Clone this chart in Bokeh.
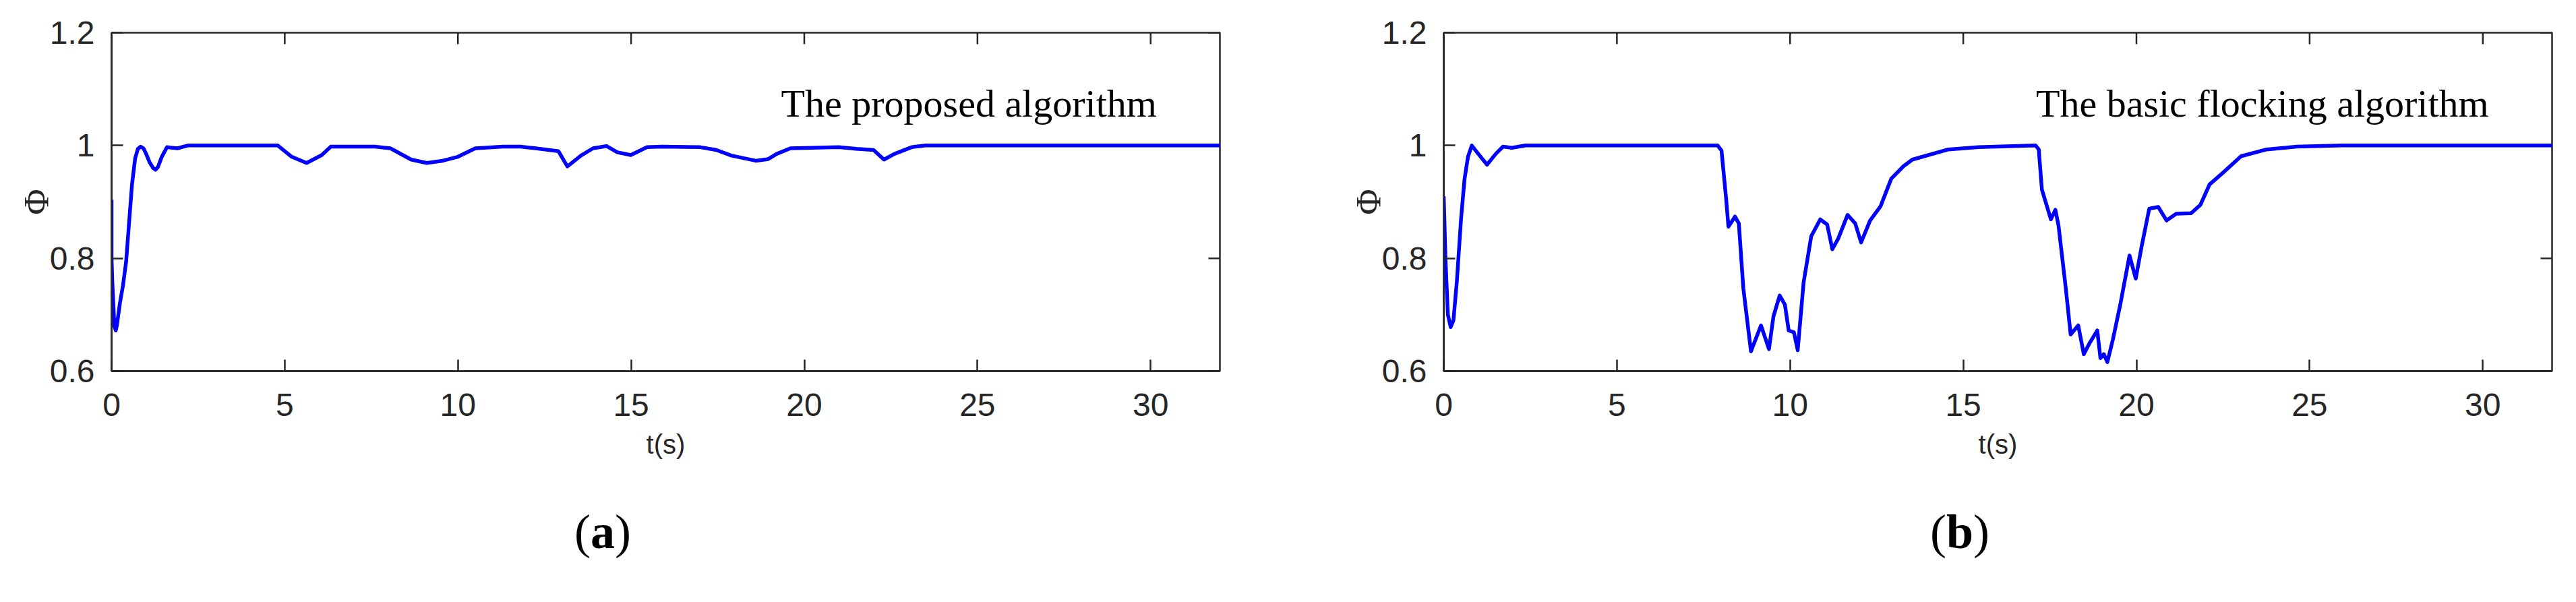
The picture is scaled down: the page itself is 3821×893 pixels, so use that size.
from bokeh.plotting import figure
from bokeh.models import FixedTicker, Label, Range1d, Div
from bokeh.layouts import row, column
from bokeh.embed import file_html
from bokeh.resources import INLINE

# ---- data ----
t_a = [0, 0.0, 0.02, 0.08, 0.12, 0.15, 0.24, 0.33, 0.42, 0.51, 0.59, 0.68, 0.76, 0.84, 0.92,
       1.0, 1.1, 1.2, 1.27, 1.34, 1.45, 1.6, 1.9, 2.2, 4.8, 5.2, 5.63, 6.07, 6.33, 7.6, 8.05,
       8.65, 9.1, 9.56, 10.0, 10.5, 11.3, 11.8, 12.25, 12.9, 13.16, 13.55, 13.9,
       14.29, 14.6, 14.99, 15.46, 15.9, 17.0, 17.46, 17.9, 18.6, 18.96, 19.2, 19.6,
       20.2, 21.0, 21.5, 22.0, 22.3, 22.6, 23.1, 23.5, 32]
phi_a = [0.904, 0.80, 0.76, 0.68, 0.672, 0.68, 0.72, 0.752, 0.794, 0.867, 0.931, 0.977, 0.994, 0.998, 0.995,
         0.985, 0.97, 0.96, 0.957, 0.962, 0.98, 0.997, 0.995, 1.0, 1.0, 0.98, 0.969, 0.983, 0.998, 0.998, 0.995,
         0.975, 0.969, 0.973, 0.980, 0.995, 0.998, 0.998, 0.995, 0.990, 0.963, 0.982, 0.995,
         0.999, 0.988, 0.983, 0.997, 0.998, 0.997, 0.992, 0.982, 0.973, 0.976, 0.985, 0.995,
         0.996, 0.997, 0.994, 0.992, 0.975, 0.985, 0.997, 1.0, 1.0]

t_b = [0, 0.05, 0.12, 0.2, 0.28, 0.38, 0.5, 0.6, 0.7, 0.81, 1.0, 1.25, 1.5, 1.71, 1.97, 2.36,
       7.91, 8.02, 8.15, 8.22, 8.41, 8.52, 8.65, 8.87, 9.16, 9.39, 9.52, 9.70, 9.85, 9.96,
       10.11, 10.22, 10.39, 10.61, 10.87, 11.07, 11.22, 11.39, 11.66, 11.88, 12.05, 12.31,
       12.61, 12.92, 13.27, 13.53, 14.57, 15.44, 17.09, 17.18, 17.27, 17.53, 17.66, 17.75,
       17.96, 18.1, 18.32, 18.48, 18.66, 18.87, 18.96, 19.06, 19.16, 19.32, 19.54, 19.80,
       19.98, 20.15, 20.37, 20.63, 20.87, 21.15, 21.58, 21.85, 22.11, 22.54, 23.02, 23.76,
       24.63, 25.94, 32]
phi_b = [0.91, 0.80, 0.70, 0.678, 0.69, 0.76, 0.87, 0.94, 0.98, 1.0, 0.985, 0.966, 0.985, 0.998, 0.996, 1.0,
         1.0, 0.991, 0.908, 0.856, 0.874, 0.862, 0.747, 0.635, 0.681, 0.639, 0.697, 0.734, 0.718, 0.672,
         0.669, 0.637, 0.757, 0.839, 0.869, 0.860, 0.816, 0.835, 0.877, 0.862, 0.828, 0.867,
         0.892, 0.941, 0.963, 0.975, 0.993, 0.997, 1.0, 0.993, 0.922, 0.869, 0.886, 0.858,
         0.747, 0.665, 0.681, 0.630, 0.651, 0.672, 0.623, 0.630, 0.616, 0.656, 0.720, 0.805,
         0.764, 0.821, 0.888, 0.891, 0.867, 0.879, 0.880, 0.895, 0.931, 0.954, 0.981, 0.993,
         0.998, 1.0, 1.0]

x_ticks = [0, 5, 10, 15, 20, 25, 30]
y_ticks = [0.6, 0.8, 1.0, 1.2]
y_tick_labels = ["0.6", "0.8", "1", "1.2"]
notes = ["The proposed algorithm", "The basic flocking algorithm"]
panel_letters = ["a", "b"]

X_MIN, X_MAX = 0, 32
Y_MIN, Y_MAX = 0.6, 1.2
FW, FH = 1644, 502
TICK = 17
AX = "#262626"
BLUE = "#0000FF"


def style_axis(ax, ticks):
    ax.ticker = FixedTicker(ticks=ticks)
    ax.axis_line_color = AX
    ax.axis_line_width = 2.5
    ax.major_tick_line_color = AX
    ax.major_tick_line_width = 2.5
    ax.major_tick_in = TICK
    ax.major_tick_out = 0
    ax.minor_tick_line_color = None
    ax.major_label_text_font = "Liberation Sans"
    ax.major_label_text_color = AX
    ax.major_label_text_font_size = "48px"


def make(t, phi, note, note_x, bl, br):
    p = figure(frame_width=FW, frame_height=FH,
               x_range=Range1d(X_MIN, X_MAX), y_range=Range1d(Y_MIN, Y_MAX),
               output_backend="svg", toolbar_location=None,
               min_border_left=bl, min_border_right=br,
               min_border_top=48, min_border_bottom=192,
               x_axis_label="t(s)", y_axis_label="Φ")
    p.grid.visible = False
    p.outline_line_color = AX
    p.outline_line_width = 2.5
    p.background_fill_color = "white"
    p.border_fill_color = "white"

    xa, ya = p.xaxis[0], p.yaxis[0]
    style_axis(xa, x_ticks)
    style_axis(ya, y_ticks)
    ya.major_label_overrides = {v: s for v, s in zip(y_ticks, y_tick_labels)}
    xa.major_label_standoff = 33
    ya.major_label_standoff = 25

    xa.axis_label_text_font = "Liberation Sans"
    xa.axis_label_text_font_style = "normal"
    xa.axis_label_text_font_size = "40px"
    xa.axis_label_text_color = AX
    xa.axis_label_standoff = 17

    ya.axis_label_text_font = "Liberation Serif"
    ya.axis_label_text_font_style = "normal"
    ya.axis_label_text_font_size = "52px"
    ya.axis_label_text_color = AX
    ya.axis_label_standoff = -12

    # mirrored inward ticks on the top and right edges (box on)
    dy = TICK / FH * (Y_MAX - Y_MIN)
    dx = TICK / FW * (X_MAX - X_MIN)
    p.segment(x0=x_ticks, y0=[Y_MAX] * len(x_ticks), x1=x_ticks, y1=[Y_MAX - dy] * len(x_ticks),
              line_color=AX, line_width=2.5)
    p.segment(x0=[X_MAX] * len(y_ticks), y0=y_ticks, x1=[X_MAX - dx] * len(y_ticks), y1=y_ticks,
              line_color=AX, line_width=2.5)

    p.line(t, phi, line_color=BLUE, line_width=5.5, line_join="round")

    p.add_layout(Label(x=note_x, y=1.074, text=note, text_font="Liberation Serif",
                       text_font_size="58px", text_color="black",
                       text_baseline="alphabetic", text_align="left"))
    return p


p1 = make(t_a, phi_a, notes[0], 19.33, 165, 166)
p2 = make(t_b, phi_b, notes[1], 17.1, 166, 12)


def panel_div(letter, width, indent):
    return Div(text="(<b>%s</b>)" % letter, width=width, height=84,
               styles={"font-family": "'Liberation Serif', serif", "font-size": "72px",
                       "line-height": "84px", "text-indent": "%dpx" % indent,
                       "color": "black", "white-space": "nowrap"})


d1 = panel_div(panel_letters[0], 1975, 847)
d2 = panel_div(panel_letters[1], 1822, 873)

layout = column(row(p1, p2), row(d1, d2))
open("out.html", "w").write(file_html(layout, INLINE))
